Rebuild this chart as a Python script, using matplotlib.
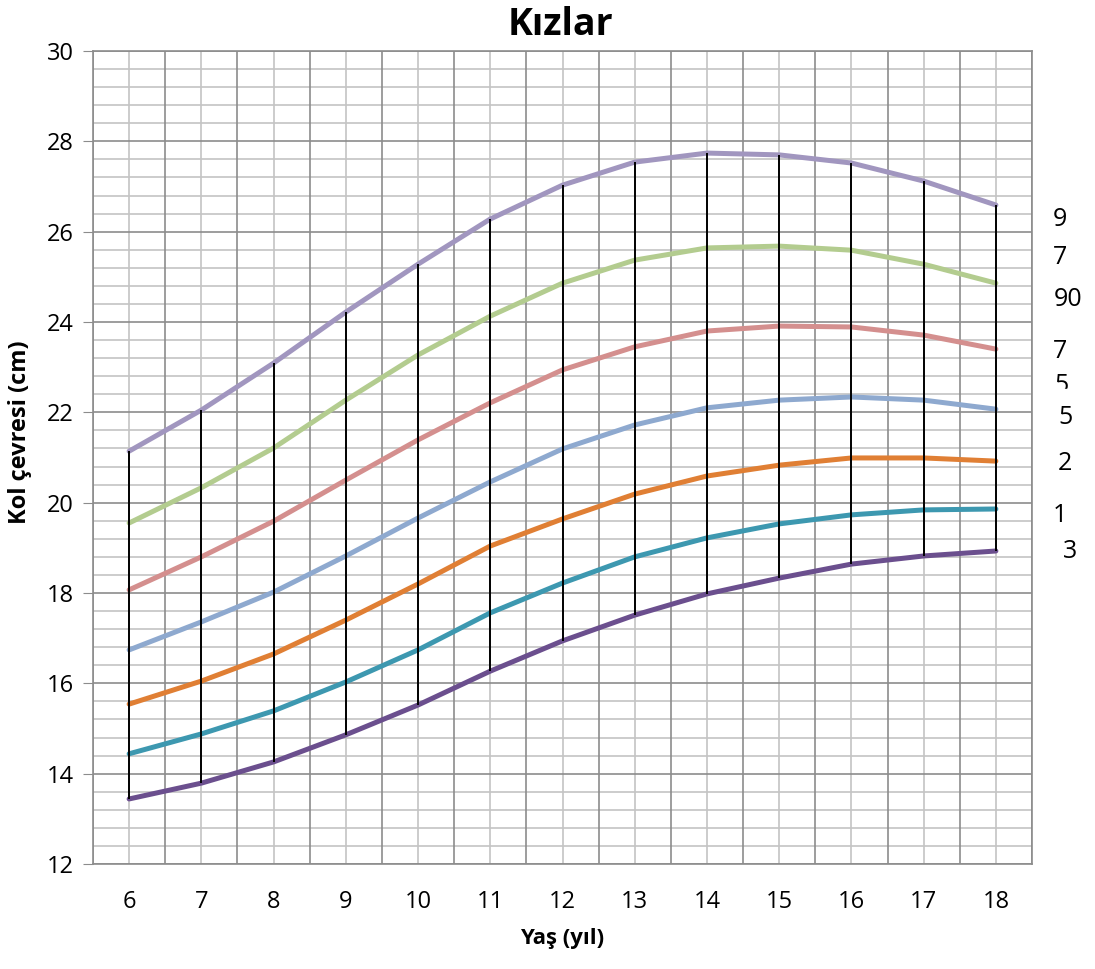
import matplotlib.pyplot as plt
from matplotlib.patches import Rectangle

plt.rcParams['font.family'] = ['Open Sans', 'DejaVu Sans']

ages = [6, 7, 8, 9, 10, 11, 12, 13, 14, 15, 16, 17, 18]

p3 = [13.44, 13.79, 14.26, 14.86, 15.52, 16.27, 16.94, 17.51, 17.98, 18.33, 18.64, 18.82, 18.93]
p10 = [14.44, 14.88, 15.39, 16.03, 16.74, 17.56, 18.22, 18.80, 19.22, 19.53, 19.73, 19.84, 19.86]
p25 = [15.54, 16.05, 16.65, 17.40, 18.20, 19.04, 19.64, 20.19, 20.59, 20.83, 20.99, 20.99, 20.92]
p50 = [16.74, 17.36, 18.02, 18.82, 19.66, 20.46, 21.19, 21.72, 22.10, 22.27, 22.34, 22.27, 22.07]
p75 = [18.07, 18.80, 19.59, 20.50, 21.39, 22.21, 22.94, 23.45, 23.80, 23.91, 23.89, 23.71, 23.40]
p90 = [19.55, 20.33, 21.21, 22.27, 23.27, 24.13, 24.86, 25.37, 25.64, 25.68, 25.59, 25.28, 24.86]
p97 = [21.14, 22.05, 23.09, 24.22, 25.28, 26.28, 27.03, 27.54, 27.74, 27.70, 27.52, 27.12, 26.59]

series = [p3, p10, p25, p50, p75, p90, p97]
colors = ['#6b4f8e', '#3d98b0', '#e07f34', '#8ea9cf', '#d48f8e', '#b3cc8f', '#a196bf']

# clipped labels on the right side, as in the source image
side_labels = ['9', '7', '90', '7', '5', '5', '2', '1', '3']
side_y = [220, 257, 300, 352, 385, 418, 463, 515, 552]
side_x = [1060, 1060, 1068, 1060, 1062, 1065, 1065, 1060, 1070]

W, H = 1095, 969
fig = plt.figure(figsize=(W / 100, H / 100), dpi=100)
ax = fig.add_axes([93 / W, 1 - 864 / H, (1032 - 93) / W, (864 - 51) / H])

ax.set_xlim(ages[0] - 0.5, ages[-1] + 0.5)
ax.set_ylim(12, 30)

# grid
for i in range(len(ages) + 1):
    ax.axvline(ages[0] - 0.5 + i, color='#8c8c8c', lw=1.2, zorder=1)
for a in ages:
    ax.axvline(a, color='#c4c4c4', lw=1.2, zorder=0.9)
for k in range(12 * 5, 30 * 5 + 1, 2):
    v = k / 5
    if abs(v - round(v)) < 1e-9 and int(round(v)) % 2 == 0:
        ax.axhline(v, color='#8c8c8c', lw=1.2, zorder=1)
    else:
        ax.axhline(v, color='#c4c4c4', lw=1.2, zorder=0.9)

for s, c in zip(series, colors):
    ax.plot(ages, s, color=c, lw=3.6, solid_capstyle='round', zorder=3)

ax.vlines(ages, p3, p97, color='black', lw=1.4, zorder=4)

ax.set_xticks(ages)
ax.set_yticks(range(12, 31, 2))
ax.tick_params(axis='x', length=0, labelsize=17, pad=19)
ax.tick_params(axis='y', length=7, color='#8c8c8c', labelsize=17, pad=7)
for sp in ax.spines.values():
    sp.set_color('#8c8c8c')
    sp.set_linewidth(1.2)

ax.set_xlabel('Yaş (yıl)', fontsize=16, fontweight='bold', labelpad=10)
fig.text(20 / W, 1 - 432 / H, 'Kol çevresi (cm)', rotation=90, ha='center',
         va='center', fontsize=17, fontweight='bold')
fig.text(560 / W, 1 - 25 / H, 'Kızlar', ha='center', va='center',
         fontsize=27, fontweight='bold')

for t, x, y in zip(side_labels, side_x, side_y):
    fig.text(x / W, 1 - y / H, t, ha='center', va='center', fontsize=18)
fig.patches.append(Rectangle((1040 / W, 1 - 401 / H), 50 / W, 12 / H,
                             transform=fig.transFigure, color='white', zorder=10))

fig.savefig('out.png', dpi=100)
